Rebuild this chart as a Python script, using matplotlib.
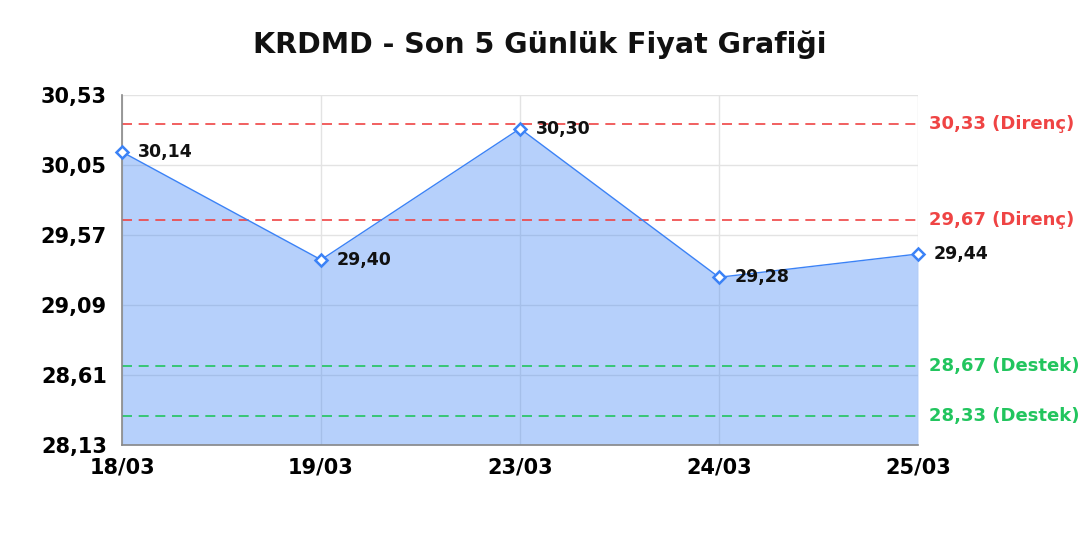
import matplotlib as mpl
mpl.use('Agg')
import matplotlib.pyplot as plt

# data
dates = ['18/03', '19/03', '23/03', '24/03', '25/03']
prices = [30.14, 29.40, 30.30, 29.28, 29.44]
y_ticks = [28.13, 28.61, 29.09, 29.57, 30.05, 30.53]
resistance = [30.33, 29.67]
support = [28.67, 28.33]

def fmt(v):
    return f'{v:.2f}'.replace('.', ',')

plt.rcParams['font.family'] = ['DejaVu Sans']
plt.rcParams['font.weight'] = 'bold'

fig = plt.figure(figsize=(10.8, 5.4), dpi=100)
axis = fig.add_axes([0.113, 0.176, 0.737, 0.648])

x = list(range(len(dates)))

# area + line
axis.fill_between(x, prices, y_ticks[0], color='#3b82f6', alpha=0.37, lw=0, zorder=1)
axis.plot(x, prices, color='#3b82f6', lw=1.0, zorder=3)
axis.plot(x, prices, linestyle='none', marker='D', markersize=6,
          markerfacecolor='white', markeredgecolor='#3b82f6',
          markeredgewidth=1.8, zorder=4, clip_on=False)

# value labels
for xi, p in zip(x, prices):
    axis.annotate(fmt(p), (xi, p), xytext=(11.5, 0), textcoords='offset points',
                  ha='left', va='center', fontsize=12.5, fontweight='bold',
                  color='#111111', zorder=5, annotation_clip=False)

# resistance / support lines
for r in resistance:
    axis.axhline(r, color='#ef4444', lw=1.2, dashes=(6, 4), zorder=2)
    axis.annotate(f'{fmt(r)} (Direnç)', (1, r), xycoords=('axes fraction', 'data'),
                  xytext=(8, 0), textcoords='offset points', ha='left', va='center',
                  fontsize=13, fontweight='bold', color='#ef4444')
for s in support:
    axis.axhline(s, color='#22c55e', lw=1.2, dashes=(6, 4), zorder=2)
    axis.annotate(f'{fmt(s)} (Destek)', (1, s), xycoords=('axes fraction', 'data'),
                  xytext=(8, 0), textcoords='offset points', ha='left', va='center',
                  fontsize=13, fontweight='bold', color='#22c55e')

axis.set_xlim(0, len(dates) - 1)
axis.set_ylim(y_ticks[0], y_ticks[-1])
axis.set_xticks(x)
axis.set_xticklabels(dates)
axis.set_yticks(y_ticks)
axis.set_yticklabels([fmt(v) for v in y_ticks])
axis.tick_params(axis='both', length=0, labelsize=15, labelcolor='#000000')
axis.tick_params(axis='y', pad=11)
axis.tick_params(axis='x', pad=9)
for lab in axis.get_xticklabels() + axis.get_yticklabels():
    lab.set_fontweight('bold')

axis.grid(True, color='#e3e3e3', lw=1.0, zorder=0)
axis.set_axisbelow(True)
for side in ['top', 'right']:
    axis.spines[side].set_visible(False)
for side in ['left', 'bottom']:
    axis.spines[side].set_color('#888888')
    axis.spines[side].set_linewidth(1.2)

fig.text(0.5, 0.917, 'KRDMD - Son 5 Günlük Fiyat Grafiği', ha='center', va='center',
         fontsize=20.5, fontweight='bold', color='#111111')

fig.savefig('out.png', dpi=100)
